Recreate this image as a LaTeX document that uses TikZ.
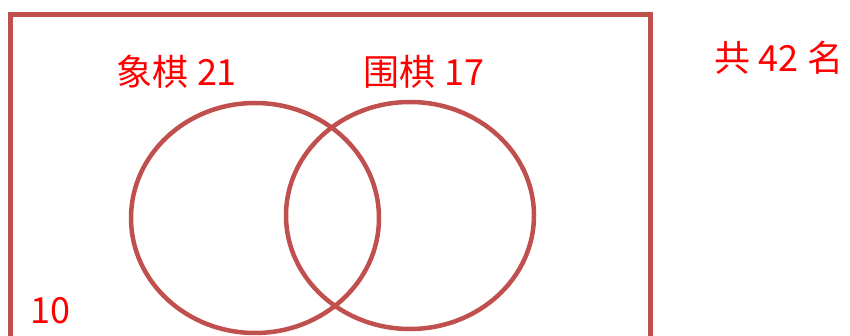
\documentclass[tikz,border=0pt]{standalone}
\usepackage{fontspec}
\newfontfamily\cjk{Noto Sans CJK SC}
\usepackage{xcolor}
\usepackage{tikz}
\usetikzlibrary{shapes.geometric}
\definecolor{setred}{HTML}{C0504D}

\begin{document}
\begin{tikzpicture}[x=1pt,y=-1pt,
		redtext/.style={font=\cjk\fontsize{36}{40}\selectfont, text=red, inner sep=0pt},
		setring/.style={ellipse, draw=setred, line width=4.5pt, inner sep=0pt, minimum width=248pt, minimum height=230pt}]
			\clip (0,0) rectangle (850,336);
			\draw[setred, line width=5pt] (10.5,15) rectangle (650.5,380);
			\node[setring] (xq) at (255,218) {};
			\node[setring, minimum height=227pt] (wq) at (410,215.5) {};
			\node[redtext] (xqt) at (177,71.5) {象棋 21};
			\node[redtext] (wqt) at (424,72) {围棋 17};
			\node[redtext] (tot) at (779,57.5) {共 42 名};
			\node[redtext] (non) at (50,311) {10};
		\end{tikzpicture}
\end{document}
